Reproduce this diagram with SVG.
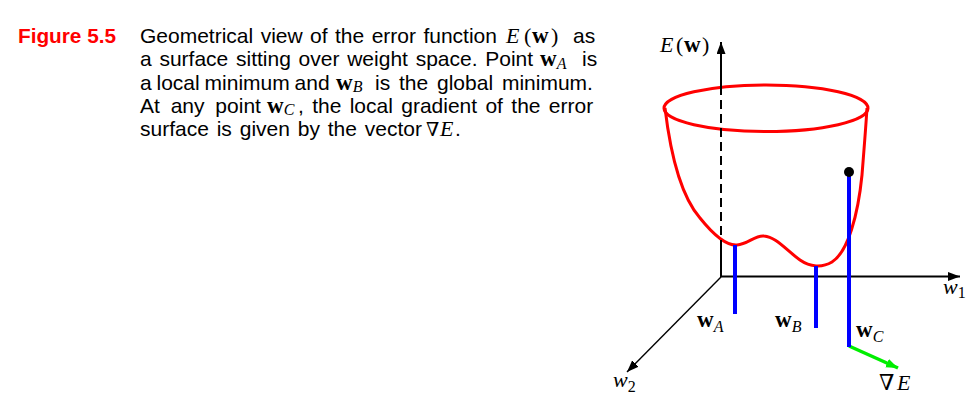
<svg xmlns="http://www.w3.org/2000/svg" width="979" height="418" viewBox="0 0 979 418">
<style>
.cap{font-family:"Liberation Sans",Arial,sans-serif;font-size:21px;fill:#000}
.fig{font-family:"Liberation Sans",Arial,sans-serif;font-size:21px;font-weight:bold;fill:#ff0000}
.m{font-family:"Liberation Serif","DejaVu Serif","Times New Roman",serif;font-size:22px;fill:#000}
.nab{font-family:"DejaVu Serif","Liberation Serif",serif;font-size:19px;fill:#000}
.mi{font-family:"Liberation Serif","Times New Roman",serif;font-size:22px;font-style:italic;fill:#000}
.mb{font-family:"Liberation Serif","Times New Roman",serif;font-size:23px;font-weight:bold;fill:#000}
.sub{font-family:"Liberation Serif","Times New Roman",serif;font-size:16px;font-style:italic;font-weight:normal;fill:#000}
.subn{font-family:"Liberation Serif","Times New Roman",serif;font-size:16px;font-style:normal;fill:#000}
.axis{stroke:#000;stroke-width:2;fill:none}
.red{stroke:#ff0000;stroke-width:3;fill:none}
.blue{stroke:#0000ff;stroke-width:4;fill:none}
</style>
<defs>
<marker id="ah" markerUnits="userSpaceOnUse" markerWidth="13" markerHeight="10" refX="12" refY="4.5" orient="auto"><path d="M0,0 L12,4.5 L0,9 z" fill="#000"/></marker>
<marker id="ahg" markerUnits="userSpaceOnUse" markerWidth="13" markerHeight="10" refX="12" refY="4.5" orient="auto"><path d="M0,0 L12,4.5 L0,9 z" fill="#00ee00"/></marker>
</defs>

<g id="caption">
<text class="fig" x="18" y="43" textLength="98" lengthAdjust="spacingAndGlyphs">Figure 5.5</text>
<text class="cap" x="140" y="43" word-spacing="1.6">Geometrical view of the error function</text>
<text class="mi" x="506" y="43">E</text>
<text class="m" x="524" y="43">(</text>
<text class="mb" x="532" y="43">w</text>
<text class="m" x="551" y="43">)</text>
<text class="cap" x="573" y="43">as</text>

<text class="cap" x="140" y="66.3" word-spacing="1.9">a surface sitting over weight space. Point</text>
<text x="540" y="66.3"><tspan class="mb">w</tspan><tspan class="sub" dy="2.5">A</tspan></text>
<text class="cap" x="582" y="66.3">is</text>

<text class="cap" x="140" y="89.5" word-spacing="-1">a local minimum and</text>
<text x="336" y="89.5"><tspan class="mb">w</tspan><tspan class="sub" dy="2.5">B</tspan></text>
<text class="cap" x="375" y="89.5" word-spacing="3">is the global minimum.</text>

<text class="cap" x="140" y="112.7" word-spacing="5">At any point</text>
<text x="267" y="112.7"><tspan class="mb">w</tspan><tspan class="sub" dy="2.5">C</tspan></text>
<text class="cap" x="298" y="112.7" word-spacing="2.5">, the local gradient of the error</text>

<text class="cap" x="140" y="136" word-spacing="2">surface is given by the vector</text>
<text class="nab" x="426" y="136">∇</text>
<text class="mi" x="440" y="136">E</text>
<text class="cap" x="455" y="136">.</text>
</g>

<g id="bowl">
<ellipse class="red" cx="766" cy="108.3" rx="102" ry="23.3"/>
<path class="red" d="M665,108 C670,150 680,195 700,218 C712,233 725,246 737,245 C748,244 755,235 764,236 C776,237 786,250 800,260 C810,267 822,268 832,262 C848,252 858,215 862,175 C864,150 866,125 867,108"/>
</g>

<g id="connectors">
<line class="axis" x1="721" y1="86" x2="721" y2="42" marker-end="url(#ah)"/>
<line class="axis" x1="721" y1="86" x2="721" y2="243" stroke-dasharray="9 5"/>
<line class="axis" x1="721" y1="243" x2="721" y2="277"/>
<line class="axis" x1="720" y1="276.5" x2="960" y2="276.5" marker-end="url(#ah)"/>
<line stroke="#000" stroke-width="1.4" x1="721" y1="277" x2="627" y2="372" marker-end="url(#ah)"/>
<line stroke="#00ee00" stroke-width="3.5" x1="849" y1="346" x2="898" y2="368" marker-end="url(#ahg)"/>
</g>

<g id="wA">
<line class="blue" x1="735" y1="245" x2="735" y2="314"/>
<text x="697" y="327"><tspan class="mb">w</tspan><tspan class="sub" dy="5">A</tspan></text>
</g>
<g id="wB">
<line class="blue" x1="816" y1="266" x2="816" y2="328"/>
<text x="775" y="327"><tspan class="mb">w</tspan><tspan class="sub" dy="5">B</tspan></text>
</g>
<g id="wC">
<line class="blue" x1="849" y1="172" x2="849" y2="347"/>
<circle cx="849" cy="172" r="5" fill="#000"/>
<text x="856" y="337"><tspan class="mb">w</tspan><tspan class="sub" dy="5">C</tspan></text>
</g>

<g id="labels">
<text class="mi" x="660" y="52">E</text>
<text class="m" x="676" y="52">(</text>
<text class="mb" x="684" y="52">w</text>
<text class="m" x="702" y="52">)</text>
<text x="943" y="294"><tspan class="mi">w</tspan><tspan class="subn" dy="4">1</tspan></text>
<text x="613" y="387"><tspan class="mi">w</tspan><tspan class="subn" dy="5">2</tspan></text>
<text class="nab" x="879" y="390" style="font-size:22px">∇</text>
<text class="mi" x="897" y="390">E</text>
</g>
</svg>
